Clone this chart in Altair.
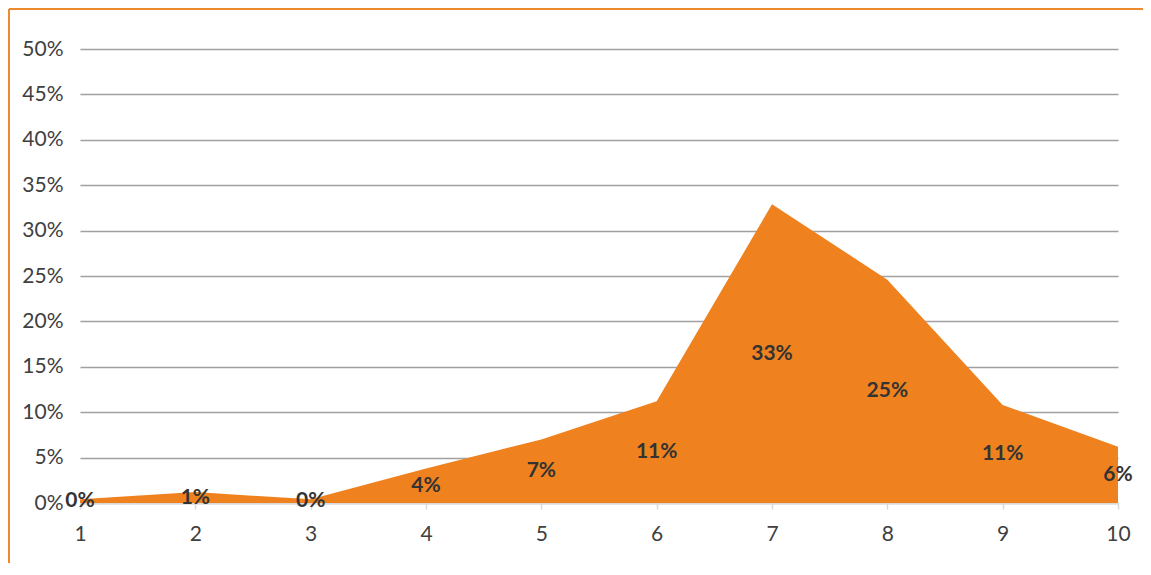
import altair as alt
import pandas as pd

categories = [1, 2, 3, 4, 5, 6, 7, 8, 9, 10]
values = [0.004, 0.012, 0.004, 0.038, 0.070, 0.112, 0.329, 0.246, 0.108, 0.062]
y_ticks = [0, 0.05, 0.10, 0.15, 0.20, 0.25, 0.30, 0.35, 0.40, 0.45, 0.50]

df = pd.DataFrame({"x": categories, "v": values})

ORANGE = "#EF821F"
FONT = "Lato"

x_enc = alt.X("x:Q", scale=alt.Scale(domain=[1, 10], nice=False, zero=False),
              axis=alt.Axis(values=categories, format="d", title=None, grid=False, labelFlush=False,
                            domainColor="#D9D9D9", domainWidth=1.5, tickColor="#D9D9D9",
                            tickSize=6, tickWidth=1.5, labelPadding=14, labelFontSize=21,
                            labelColor="#404040", labelFont=FONT))

area = alt.Chart(df).mark_area(color=ORANGE, opacity=1, interpolate="linear").encode(
    x=x_enc,
    y=alt.Y("v:Q", scale=alt.Scale(domain=[0, 0.5], nice=False),
            axis=alt.Axis(values=y_ticks, format=".0%", title=None, domain=False, ticks=False,
                          labelFlush=False,
                          gridColor="#A0A0A0", gridWidth=1.7, labelPadding=17, labelFontSize=21,
                          labelColor="#404040", labelFont=FONT)),
)

labels = alt.Chart(df).transform_calculate(mid="datum.v / 2").mark_text(
    fontWeight="bold", fontSize=21, color="#333333", font=FONT, baseline="middle", align="center"
).encode(
    x=alt.X("x:Q"),
    y=alt.Y("mid:Q"),
    text=alt.Text("v:Q", format=".0%"),
)

border_top = alt.Chart(alt.Data(values=[{}])).mark_rule(color="#EE8A2E", strokeWidth=2).encode(
    x=alt.value(-71), x2=alt.value(1100), y=alt.value(-40)
)
border_left = alt.Chart(alt.Data(values=[{}])).mark_rule(color="#EE8A2E", strokeWidth=2).encode(
    x=alt.value(-71), y=alt.value(-40), y2=alt.value(600)
)

chart = alt.layer(area, labels, border_top, border_left).properties(
    width=1038, height=454,
    autosize=alt.AutoSizeParams(type="none"),
    padding={"left": 72, "top": 41, "right": 25, "bottom": 60},
).configure_view(stroke=None)

chart.save("out.html", embed_options={"renderer": "svg", "actions": False})
